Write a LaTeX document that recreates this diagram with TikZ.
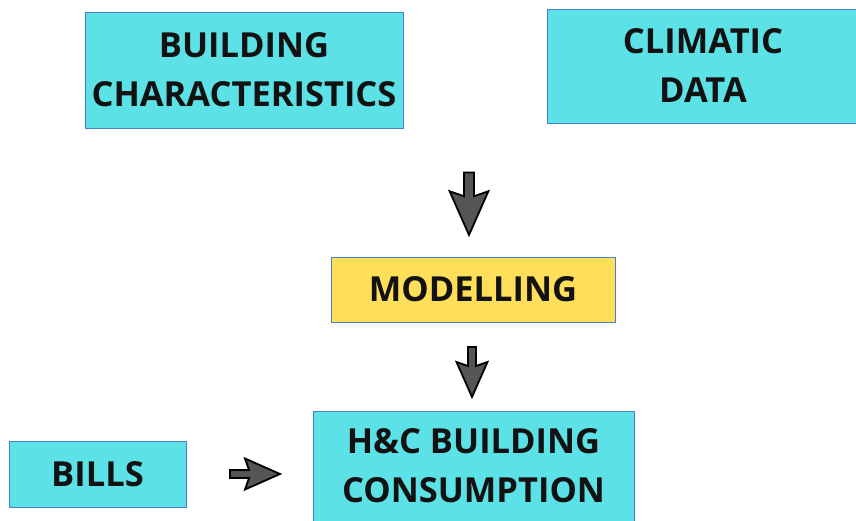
\documentclass[tikz,border=0pt]{standalone}
\usepackage{fontspec}
\setmainfont{Open Sans}
\usepackage{xcolor}
\definecolor{boxcyan}{HTML}{5CE1E6}
\definecolor{boxyellow}{HTML}{FFDE59}
\definecolor{boxline}{HTML}{4A7FD0}
\definecolor{arrgray}{HTML}{555555}
% block arrow: tip at (#1,#2), scale #3, rotation #4
\newcommand{\blkarr}[4]{
\filldraw[fill=arrgray,draw=black,line width=1.8pt,line join=miter,shift={(#1,#2)},rotate=#4,scale=#3]
 (0,0)--(-15.5,35)--(-4,31)--(-4,50)--(4,50)--(4,31)--(15.5,35)--cycle;
}
\tikzset{
 box/.style={draw=boxline,line width=0.8pt,fill=boxcyan,font=\bfseries\fontsize{34.5}{49}\selectfont,
  align=center,inner sep=0pt,text=black!93},
 ybox/.style={box,fill=boxyellow}
}
\begin{document}
\begin{tikzpicture}[x=1pt,y=1pt]
\useasboundingbox (0,0) rectangle (856,521);

\node[box,minimum width=318,minimum height=116] (bchar) at (244,451) {BUILDING\\CHARACTERISTICS};
\node[box,minimum width=312,minimum height=114] (climate) at (703,455) {CLIMATIC\\DATA};
\node[ybox,minimum width=284,minimum height=65] (model) at (473,231.5) {MODELLING};
\node[box,minimum width=321,minimum height=110] (hc) at (473.5,55) {H\&C BUILDING\\CONSUMPTION};
\node[box,minimum width=177,minimum height=66] (bills) at (97.5,47) {BILLS};

\blkarr{469}{286}{1.25}{0}
\blkarr{472}{124}{1}{0}
\blkarr{280}{47}{1}{90}

\end{tikzpicture}
\end{document}
